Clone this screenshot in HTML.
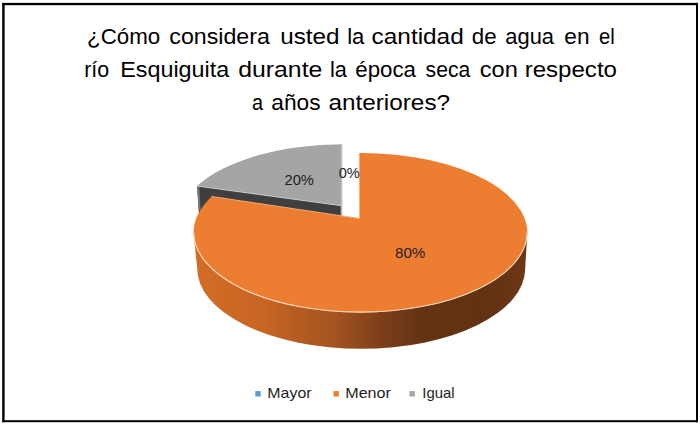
<!DOCTYPE html>
<html lang="es">
<head>
<meta charset="utf-8">
<title>Gráfico</title>
<style>
html,body{margin:0;padding:0;background:#fff;}
body{width:700px;height:427px;overflow:hidden;}
svg{display:block;}
text{font-family:"Liberation Sans",sans-serif;}
</style>
</head>
<body>
<svg width="700" height="427" viewBox="0 0 700 427">
  <defs>
    <linearGradient id="side" x1="193" y1="0" x2="528" y2="0" gradientUnits="userSpaceOnUse">
      <stop offset="0" stop-color="#d36c25"/>
      <stop offset="0.2" stop-color="#c96624"/>
      <stop offset="0.43" stop-color="#a25220"/>
      <stop offset="0.57" stop-color="#7b3e19"/>
      <stop offset="0.68" stop-color="#643314"/>
      <stop offset="0.86" stop-color="#623213"/>
      <stop offset="1" stop-color="#6c3715"/>
    </linearGradient>
  </defs>
  <rect x="0" y="0" width="700" height="427" fill="#ffffff"/>
  <!-- frame -->
  <rect x="2.2" y="2.9" width="2.4" height="419.3" fill="#000"/>
  <rect x="2.2" y="2.9" width="695.8" height="2.3" fill="#000"/>
  <rect x="696" y="2.9" width="2" height="419.3" fill="#000"/>
  <rect x="2.2" y="420.2" width="695.8" height="2" fill="#000"/>

  <!-- title -->
  <g font-size="22.5" fill="#000">
    <text x="87.01" y="44.4" textLength="73.16" lengthAdjust="spacingAndGlyphs">¿Cómo</text>
    <text x="169.30" y="44.4" textLength="100.58" lengthAdjust="spacingAndGlyphs">considera</text>
    <text x="280.21" y="44.4" textLength="59.38" lengthAdjust="spacingAndGlyphs">usted</text>
    <text x="347.18" y="44.4" textLength="17.19" lengthAdjust="spacingAndGlyphs">la</text>
    <text x="371.60" y="44.4" textLength="92.14" lengthAdjust="spacingAndGlyphs">cantidad</text>
    <text x="471.84" y="44.4" textLength="24.81" lengthAdjust="spacingAndGlyphs">de</text>
    <text x="505.30" y="44.4" textLength="48.70" lengthAdjust="spacingAndGlyphs">agua</text>
    <text x="564.32" y="44.4" textLength="25.19" lengthAdjust="spacingAndGlyphs">en</text>
    <text x="599.00" y="44.4" textLength="15.77" lengthAdjust="spacingAndGlyphs">el</text>
    <text x="84.23" y="76.7" textLength="24.99" lengthAdjust="spacingAndGlyphs">río</text>
    <text x="120.20" y="76.7" textLength="109.05" lengthAdjust="spacingAndGlyphs">Esquiguita</text>
    <text x="238.21" y="76.7" textLength="84.16" lengthAdjust="spacingAndGlyphs">durante</text>
    <text x="329.99" y="76.7" textLength="16.92" lengthAdjust="spacingAndGlyphs">la</text>
    <text x="355.26" y="76.7" textLength="60.70" lengthAdjust="spacingAndGlyphs">época</text>
    <text x="425.59" y="76.7" textLength="44.69" lengthAdjust="spacingAndGlyphs">seca</text>
    <text x="479.81" y="76.7" textLength="37.97" lengthAdjust="spacingAndGlyphs">con</text>
    <text x="524.65" y="76.7" textLength="92.37" lengthAdjust="spacingAndGlyphs">respecto</text>
    <text x="252.01" y="109.6" textLength="11.05" lengthAdjust="spacingAndGlyphs">a</text>
    <text x="271.33" y="109.6" textLength="49.23" lengthAdjust="spacingAndGlyphs">años</text>
    <text x="328.40" y="109.6" textLength="121.72" lengthAdjust="spacingAndGlyphs">anteriores?</text>
  </g>

  <!-- gray slice side -->
  <path d="M197.1 186.1 L341.5 205.7 L341.5 240 L199.5 222 Z" fill="#3f3f3f"/>
  <path d="M197.1 186.1 L199.4 186.6 L200.6 210 L198.6 210 Z" fill="#6f757b"/>
  <!-- gray slice top -->
  <path d="M341.3 205.7 L197.1 186.1 A163 77.5 0 0 1 341.9 144.3 Z" fill="#a5a5a5"/>
  <path d="M197.1 186.1 L341.3 205.7" stroke="#d0d0d0" stroke-width="0.8" fill="none"/>
  <rect x="340.7" y="144.3" width="1.6" height="70.6" fill="#bcbcbc"/>

  <!-- orange side -->
  <path d="M193.50 232.7 L197.20 268.5 A164.0 80.3 0 0 0 525.20 268.5 L527.30 232.7 Z" fill="url(#side)"/>
  <!-- orange top -->
  <path d="M359.5 218.5 L359.30 152.90 A166.9 79.8 0 1 1 211.69 196.48 Z" fill="#ed7d31"/>
  <path d="M359.30 152.90 L359.5 218.5 L211.69 196.48" fill="none" stroke="#f4b183" stroke-width="0.9" stroke-linejoin="round"/>
  <!-- highlight rim -->
  <path d="M193.80 232.7 A166.6 79.5 0 0 0 527.00 232.7" fill="none" stroke="#fbdcc0" stroke-width="1.1"/>

  <!-- data labels -->
  <g font-size="15.1" fill="#1e1e1e">
    <text x="284.50" y="185.3" textLength="29.44" lengthAdjust="spacingAndGlyphs">20%</text>
    <text x="338.69" y="177.9" textLength="21.09" lengthAdjust="spacingAndGlyphs">0%</text>
    <text x="394.96" y="257.6" textLength="30.35" lengthAdjust="spacingAndGlyphs">80%</text>
  </g>

  <!-- legend -->
  <rect x="255.3" y="391.1" width="5.4" height="5.4" fill="#5b9bd5"/>
  <rect x="333.5" y="391.1" width="5.4" height="5.4" fill="#ed7d31"/>
  <rect x="409.5" y="391.1" width="5.4" height="5.4" fill="#a5a5a5"/>
  <g font-size="14.8" fill="#1e1e1e">
    <text x="267.37" y="398.2" textLength="44.17" lengthAdjust="spacingAndGlyphs">Mayor</text>
    <text x="345.22" y="398.2" textLength="45.64" lengthAdjust="spacingAndGlyphs">Menor</text>
    <text x="422.26" y="398.2" textLength="32.27" lengthAdjust="spacingAndGlyphs">Igual</text>
  </g>
</svg>
</body>
</html>
